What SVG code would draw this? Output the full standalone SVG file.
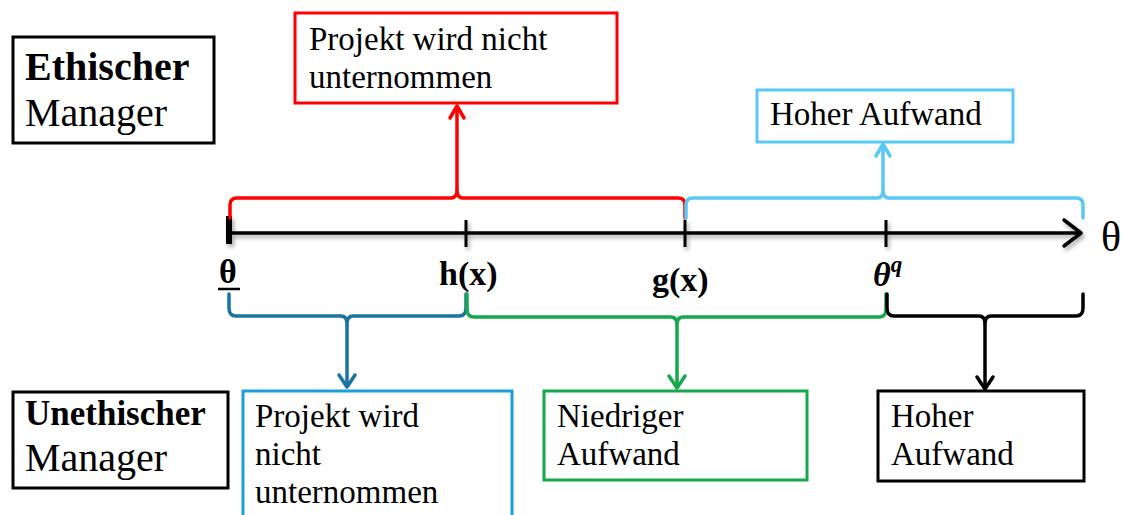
<svg xmlns="http://www.w3.org/2000/svg" width="1124" height="515" viewBox="0 0 1124 515">
<style>
  text { font-family: "Liberation Serif", "DejaVu Serif", serif; fill: #000; }
  .t { font-size: 33px; }
  .big { font-size: 40px; }
  .lbl { font-size: 34px; font-weight: bold; }
  .box { fill: #fff; stroke-width: 3; }
  .br { fill: none; stroke-width: 3.5; stroke-linecap: round; stroke-linejoin: round; }
  .ar { fill: none; stroke-width: 3.5; stroke-linecap: round; stroke-linejoin: round; }
</style>
<defs>
  <filter id="sh" x="-5%" y="-200%" width="110%" height="500%">
    <feGaussianBlur in="SourceAlpha" stdDeviation="2"/>
    <feOffset dx="2" dy="3" result="o"/>
    <feComponentTransfer><feFuncA type="linear" slope="0.35"/></feComponentTransfer>
    <feMerge><feMergeNode/><feMergeNode in="SourceGraphic"/></feMerge>
  </filter>
</defs>
<rect width="1124" height="515" fill="#fff"/>

<g id="connectors">
  <!-- axis -->
  <g filter="url(#sh)">
    <line x1="230" y1="233" x2="1080" y2="233" stroke="#000" stroke-width="3.5"/>
    <polyline points="1064,220 1081,233 1064,246" fill="none" stroke="#000" stroke-width="3.5" stroke-linecap="round" stroke-linejoin="round"/>
    <line x1="229" y1="216" x2="229" y2="244" stroke="#000" stroke-width="6"/>
    <line x1="466" y1="220" x2="466" y2="247" stroke="#000" stroke-width="3"/>
    <line x1="685" y1="220" x2="685" y2="247" stroke="#000" stroke-width="3"/>
    <line x1="886" y1="220" x2="886" y2="247" stroke="#000" stroke-width="3"/>
  </g>
  <!-- red brace + arrow -->
  <path class="br" stroke="#FF0000" d="M230,218 V205 Q230,198 237,198 H451 Q457,198 457,190 Q457,198 463,198 H678 Q685,198 685,205 V218"/>
  <line x1="457" y1="190" x2="457" y2="106" stroke="#FF0000" stroke-width="3.5"/>
  <polyline class="ar" stroke="#FF0000" points="450,118 457,106 464,118"/>
  <!-- light blue brace + arrow -->
  <path class="br" stroke="#5AC8F5" d="M686,218 V205 Q686,198 693,198 H877 Q883,198 883,190 Q883,198 889,198 H1076 Q1083,198 1083,205 V218"/>
  <line x1="883" y1="190" x2="883" y2="144" stroke="#5AC8F5" stroke-width="3.5"/>
  <polyline class="ar" stroke="#5AC8F5" points="876,156 883,144 890,156"/>
  <!-- dark blue brace + arrow -->
  <path class="br" stroke="#1A73A0" d="M229,294 V308 Q229,316 236,316 H341 Q347,316 347,324 Q347,316 353,316 H459 Q466,316 466,308 V294"/>
  <line x1="347" y1="324" x2="347" y2="387" stroke="#1A73A0" stroke-width="3.5"/>
  <polyline class="ar" stroke="#1A73A0" points="339,375 347,387 355,375"/>
  <!-- green brace + arrow -->
  <path class="br" stroke="#16A84C" d="M467,294 V309 Q467,317 474,317 H671 Q677,317 677,325 Q677,317 683,317 H879 Q886,317 886,309 V294"/>
  <line x1="677" y1="325" x2="677" y2="388" stroke="#16A84C" stroke-width="3.5"/>
  <polyline class="ar" stroke="#16A84C" points="669,376 677,388 685,376"/>
  <!-- black brace + arrow -->
  <path class="br" stroke="#000" d="M887,294 V308 Q887,316 894,316 H979 Q985,316 985,324 Q985,316 991,316 H1076 Q1083,316 1083,308 V294"/>
  <line x1="985" y1="324" x2="985" y2="389" stroke="#000" stroke-width="3.5"/>
  <polyline class="ar" stroke="#000" points="977,377 985,389 993,377"/>
</g>

<g id="axis-labels">
  <text x="1101" y="251" font-size="42">θ</text>
  <text x="219" y="283" class="lbl">θ</text>
  <line x1="218" y1="289" x2="240" y2="289" stroke="#000" stroke-width="2.5"/>
  <text x="439" y="285" class="lbl">h(x)</text>
  <text x="652" y="291" class="lbl">g(x)</text>
  <text x="873" y="286" class="lbl" font-style="italic">θ<tspan font-size="23" dy="-14">q</tspan></text>
</g>

<g id="ethischer-manager">
  <rect class="box" x="13" y="37" width="201" height="106" stroke="#000"/>
  <text x="25" y="80" class="big" font-weight="bold">Ethischer</text>
  <text x="25" y="126" class="big">Manager</text>
</g>

<g id="e-projekt">
  <rect class="box" x="295" y="13" width="322" height="90" stroke="#FF0000"/>
  <text x="309" y="50" class="t">Projekt wird nicht</text>
  <text x="309" y="88" class="t">unternommen</text>
</g>

<g id="e-hoher">
  <rect class="box" x="757" y="90" width="256" height="52" stroke="#5AC8F5"/>
  <text x="770" y="125" class="t">Hoher Aufwand</text>
</g>

<g id="unethischer-manager">
  <rect class="box" x="13" y="392" width="215" height="96" stroke="#000"/>
  <text x="25" y="425" font-size="35" font-weight="bold">Unethischer</text>
  <text x="25" y="471" class="big">Manager</text>
</g>

<g id="u-projekt">
  <rect class="box" x="243" y="391" width="269" height="140" stroke="#1A9FD9"/>
  <text x="255" y="427" class="t">Projekt wird</text>
  <text x="255" y="465" class="t">nicht</text>
  <text x="255" y="503" class="t">unternommen</text>
</g>

<g id="u-niedrig">
  <rect class="box" x="544" y="391" width="263" height="89" stroke="#16A84C"/>
  <text x="557" y="427" class="t">Niedriger</text>
  <text x="557" y="465" class="t">Aufwand</text>
</g>

<g id="u-hoher">
  <rect class="box" x="878" y="391" width="206" height="90" stroke="#000"/>
  <text x="891" y="427" class="t">Hoher</text>
  <text x="891" y="465" class="t">Aufwand</text>
</g>
</svg>
